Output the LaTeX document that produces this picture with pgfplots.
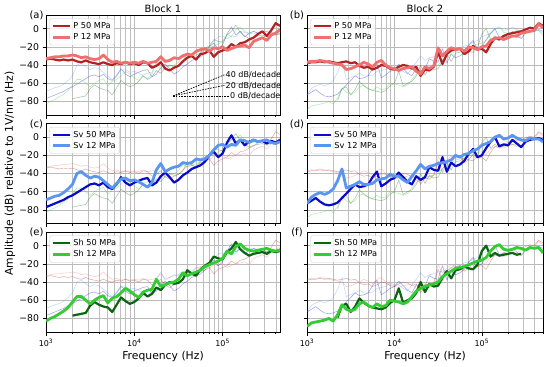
\documentclass[border=0pt]{standalone}
\usepackage{fontspec}
\setmainfont{DejaVu Sans}
\usepackage{pgfplots}
\usepackage{pgfplotstable}
\pgfplotsset{compat=1.18}

\definecolor{pA}{HTML}{B22222}
\definecolor{pB}{HTML}{F07070}
\definecolor{vA}{HTML}{0A0ACD}
\definecolor{vB}{HTML}{5A96F0}
\definecolor{hA}{HTML}{0B6410}
\definecolor{hB}{HTML}{33CC33}

\pgfplotstableread{
f P50 P12 Sv50 Sv12 Sh50 Sh12
1000 -34 -33 -77 -69 nan -83
1122 -33 -32 -75 -67 nan -80
1259 -34 -31 -73 -65 nan -78
1413 -35 -31 -71 -64 nan -75
1585 -34 -30 -69 -61 nan -72
1778 -35 -30 -66 -57 nan -68
1995 -34 -29 -64 -52 -77 -62
2239 -36 -30 -61 -40 -76 -56
2512 -37 -32 -58 -38 -75 -56
2818 -35 -31 -55 -42 -74 -60
3162 -37 -33 -52 -45 -66 -64
3548 -38 -34 -51 -43 -62 -60
3981 -39 -33 -53 -44 -65 -57
4467 -37 -29 -50 -48 -67 -55
5012 -39 -34 -55 -52 -68 -63
5623 -40 -37 -57 -56 -73 -58
6310 -38 -36 -52 -51 -65 -56
7079 -39 -38 -44 -46 -57 -52
7943 -37 -37 -50 -45 -61 -47
8913 -39 -38 -53 -48 -64 -50
10000 -38 -37 -50 -47 -62 -54
11220 -40 -38 -48 -49 -58 -57
12589 -37 -36 -46 -52 -52 -51
14125 -38 -38 -45 -55 -56 -49
15849 -43 -37 -53 -50 -53 -48
17783 -41 -36 -50 -36 -46 -37
19953 -37 -31 -43 -29 -49 -45
22387 -44 -36 -39 -38 -43 -43
25119 -46 -35 -44 -35 -40 -41
28184 -43 -32 -50 -33 -42 -40
31623 -41 -33 -47 -32 -41 -37
35481 -36 -30 -42 -28 -37 -30
39811 -32 -28 -39 -29 -27 -33
44668 -30 -29 -35 -28 -31 -31
50119 -34 -25 -33 -24 -33 -29
56234 -28 -23 -31 -25 -26 -27
63096 -27 -22 -27 -24 -22 -23
70795 -24 -25 -20 -20 -19 -21
79433 -31 -21 -16 -14 -12 -19
89125 -26 -22 -22 -9 -14 -17
100000 -24 -20 -18 -8 -15 -14
112202 -22 -24 -6 -11 -7 -6
125893 -17 -22 2 -8 -3 -9
141254 -20 -20 -7 -9 4 -1
158489 -16 -19 -3 -3 -4 2
177828 -15 -18 -9 -4 -8 -3
199526 -12 -21 -5 -6 -11 -5
223872 -10 -14 -3 -3 -9 -6
251189 -6 -12 -5 -5 -8 -5
281838 -3 -10 -4 -4 -7 -4
316228 -8 -13 -7 -3 -9 -3
354813 -2 -7 -4 -6 -6 -5
398107 6 -5 -6 -7 -7 -6
446684 3 -1 -3 -5 -6 -5
}\blockone

\pgfplotstableread{
f P50 P12 Sv50 Sv12 Sh50 Sh12
1000 -38 -37 -73 -73 nan -89
1122 -37 -36 -70 -66 nan -85
1259 -37 -36 -67 -63 nan -84
1413 -36 -35 -71 -61 nan -83
1585 -37 -36 -74 -63 nan -82
1778 -36 -37 -75 -61 nan -80
1995 -37 -38 -74 -57 nan -83
2239 -38 -39 -72 -48 -79 -76
2512 -37 -40 -67 -35 -66 -65
2818 -36 -45 -62 -56 -64 -70
3162 -38 -44 -57 -54 -73 -72
3548 -37 -42 -52 -52 -67 -70
3981 -41 -40 -55 -49 -58 -64
4467 -43 -37 -54 -52 -63 -62
5012 -42 -39 -52 -52 -66 -66
5623 -45 -42 -44 -51 -68 -68
6310 -43 -37 -38 -47 -69 -64
7079 -40 -35 -54 -46 -70 -67
7943 -41 -40 -51 -45 -68 -66
8913 -44 -43 -47 -41 -63 -60
10000 -45 -44 -45 -43 -60 -61
11220 -42 -46 -39 -43 -47 -62
12589 -40 -44 -44 -47 -63 -64
14125 -41 -43 -49 -50 -60 -62
15849 -44 -42 -52 -43 -58 -56
17783 -42 -47 -43 -37 -52 -50
19953 -52 -50 -47 -30 -40 -47
22387 -45 -42 -44 -35 -51 -45
25119 -46 -44 -33 -32 -42 -43
28184 -42 -41 -36 -31 -45 -42
31623 -26 -21 -37 -29 -44 -40
35481 -39 -30 -22 -28 -35 -34
39811 -28 -25 -38 -27 -28 -31
44668 -24 -21 -28 -25 -36 -28
50119 -23 -23 -32 -20 -27 -25
56234 -22 -22 -30 -22 -26 -24
63096 -28 -25 -26 -19 -23 -23
70795 -25 -20 -18 -18 -25 -21
79433 -19 -21 -13 -15 -26 -19
89125 -23 -23 -22 -13 -21 -17
100000 -22 -20 -20 -9 -6 -16
112202 -26 -19 -12 -7 0 -13
125893 -17 -13 -5 -5 -12 -6
141254 -10 -11 0 0 -8 -1
158489 -12 -10 -10 2 -11 1
177828 -8 -12 -8 -2 -10 -4
199526 -6 -10 -9 -1 -9 -5
223872 -5 -8 -3 2 -8 -4
251189 -4 -8 -7 -1 -10 -2
281838 -3 -5 -11 -3 -9 -3
316228 -1 -4 -5 -4 nan -5
354813 1 -3 -3 -1 nan -2
398107 0 -2 -2 -2 nan -3
446684 6 5 -1 -2 nan -2
501187 3 1 -3 -5 nan -8
}\blocktwo

\pgfplotsset{
  myPanel/.style={
    scale only axis, height=100pt,
    xmin=1000,
    ymin=-95, ymax=15,
    xtick={1000,10000,100000},
    ytick={-80,-60,-40,-20,0},
    xticklabels={}, yticklabels={},
    xmajorgrids=true, xminorgrids=true, ymajorgrids=true,
    major grid style={black!27, line width=0.5pt},
    minor grid style={black!25, line width=0.5pt},
    tick align=outside, tick pos=left,
    major tick length=3.5pt, minor tick length=2pt,
    every tick/.style={black, line width=0.6pt},
    axis line style={line width=0.8pt},
    yticklabel style={font=\fontsize{9.3}{10}\selectfont},
    xticklabel style={font=\fontsize{8}{10}\selectfont},
    legend style={at={(0.015,0.965)}, anchor=north west, draw=black!20,
      fill=white, fill opacity=0.8, draw opacity=1, text opacity=1,
      rounded corners=2pt, font=\fontsize{8.2}{10}\selectfont,
      inner sep=1.8pt, row sep=-0.5pt},
    legend cell align=left,
    anchor=north west,
  },
  myLeft/.style={myPanel, width=234pt, xmax=446684,
    minor xtick={2000,3000,4000,5000,6000,7000,8000,9000,20000,30000,40000,50000,60000,70000,80000,90000,200000,300000,400000},
    yticklabels={−80,−60,−40,−20,0}},
  myRight/.style={myPanel, width=236pt, xmax=501187,
    minor xtick={2000,3000,4000,5000,6000,7000,8000,9000,20000,30000,40000,50000,60000,70000,80000,90000,200000,300000,400000,500000}},
  myBottom/.style={xticklabels={10\textsuperscript{3},10\textsuperscript{4},10\textsuperscript{5}}},
  faint/.style={line width=0.6pt, draw opacity=0.35, forget plot, mark=none, line join=round},
  boldA/.style={line width=2.2pt, mark=none, line join=round},
  boldB/.style={line width=2.8pt, mark=none, line join=round},
}

\begin{document}
\begin{tikzpicture}
\path[use as bounding box] (0pt,0pt) rectangle (550pt,-367pt);

% (a)
\begin{axis}[xmode=log, myLeft, at={(46pt,-15pt)}]
\addplot[faint, vA] table[x=f,y=Sv50]{\blockone};
\addplot[faint, vB] table[x=f,y=Sv12]{\blockone};
\addplot[faint, hA] table[x=f,y=Sh50]{\blockone};
\addplot[faint, hB] table[x=f,y=Sh12]{\blockone};
\addplot[boldA, pA] table[x=f,y=P50]{\blockone};
\addlegendentry{P 50 MPa}
\addplot[boldB, pB] table[x=f,y=P12]{\blockone};
\addlegendentry{P 12 MPa}
\draw[black, line width=0.7pt, dash pattern=on 1.6pt off 1.1pt] (axis cs:27542,-74) -- (axis cs:104713,-50.8) node[right, inner sep=1pt, font=\fontsize{8}{9}\selectfont] {40 dB/decade};
\draw[black, line width=0.7pt, dash pattern=on 1.6pt off 1.1pt] (axis cs:27542,-74) -- (axis cs:104713,-62.4) node[right, inner sep=1pt, font=\fontsize{8}{9}\selectfont] {20 dB/decade};
\draw[black, line width=0.7pt, dash pattern=on 1.6pt off 1.1pt] (axis cs:27542,-74) -- (axis cs:117490,-74) node[right, inner sep=1pt, font=\fontsize{8}{9}\selectfont] {0 dB/decade};
\end{axis}

% (b)
\begin{axis}[xmode=log, myRight, at={(307pt,-15pt)}]
\addplot[faint, vA] table[x=f,y=Sv50]{\blocktwo};
\addplot[faint, vB] table[x=f,y=Sv12]{\blocktwo};
\addplot[faint, hA] table[x=f,y=Sh50]{\blocktwo};
\addplot[faint, hB] table[x=f,y=Sh12]{\blocktwo};
\addplot[boldA, pA] table[x=f,y=P50]{\blocktwo};
\addlegendentry{P 50 MPa}
\addplot[boldB, pB] table[x=f,y=P12]{\blocktwo};
\addlegendentry{P 12 MPa}
\end{axis}

% (c)
\begin{axis}[xmode=log, myLeft, at={(46pt,-123.5pt)}]
\addplot[faint, pA] table[x=f,y=P50]{\blockone};
\addplot[faint, pB] table[x=f,y=P12]{\blockone};
\addplot[faint, hA] table[x=f,y=Sh50]{\blockone};
\addplot[faint, hB] table[x=f,y=Sh12]{\blockone};
\addplot[boldA, vA] table[x=f,y=Sv50]{\blockone};
\addlegendentry{Sv 50 MPa}
\addplot[boldB, vB] table[x=f,y=Sv12]{\blockone};
\addlegendentry{Sv 12 MPa}
\end{axis}

% (d)
\begin{axis}[xmode=log, myRight, at={(307pt,-123.5pt)}]
\addplot[faint, pA] table[x=f,y=P50]{\blocktwo};
\addplot[faint, pB] table[x=f,y=P12]{\blocktwo};
\addplot[faint, hA] table[x=f,y=Sh50]{\blocktwo};
\addplot[faint, hB] table[x=f,y=Sh12]{\blocktwo};
\addplot[boldA, vA] table[x=f,y=Sv50]{\blocktwo};
\addlegendentry{Sv 50 MPa}
\addplot[boldB, vB] table[x=f,y=Sv12]{\blocktwo};
\addlegendentry{Sv 12 MPa}
\end{axis}

% (e)
\begin{axis}[xmode=log, myLeft, myBottom, at={(46pt,-232pt)}]
\addplot[faint, pA] table[x=f,y=P50]{\blockone};
\addplot[faint, pB] table[x=f,y=P12]{\blockone};
\addplot[faint, vA] table[x=f,y=Sv50]{\blockone};
\addplot[faint, vB] table[x=f,y=Sv12]{\blockone};
\addplot[boldA, hA] table[x=f,y=Sh50]{\blockone};
\addlegendentry{Sh 50 MPa}
\addplot[boldB, hB] table[x=f,y=Sh12]{\blockone};
\addlegendentry{Sh 12 MPa}
\end{axis}

% (f)
\begin{axis}[xmode=log, myRight, myBottom, at={(307pt,-232pt)}]
\addplot[faint, pA] table[x=f,y=P50]{\blocktwo};
\addplot[faint, pB] table[x=f,y=P12]{\blocktwo};
\addplot[faint, vA] table[x=f,y=Sv50]{\blocktwo};
\addplot[faint, vB] table[x=f,y=Sv12]{\blocktwo};
\addplot[boldA, hA] table[x=f,y=Sh50]{\blocktwo};
\addlegendentry{Sh 50 MPa}
\addplot[boldB, hB] table[x=f,y=Sh12]{\blocktwo};
\addlegendentry{Sh 12 MPa}
\end{axis}

% titles and labels
\node[font=\fontsize{10}{12}\selectfont] at (163pt,-9pt) {Block 1};
\node[font=\fontsize{10}{12}\selectfont] at (425pt,-9pt) {Block 2};
\foreach \lab/\x/\y in {a/36.5/15.5, b/297/15.5, c/36.5/124, d/297/124, e/36.5/232.5, f/297/232.5}
  \node[font=\fontsize{10}{12}\selectfont] at (\x pt,-\y pt) {(\lab)};
\node[font=\fontsize{10.8}{12}\selectfont, rotate=90] at (10pt,-173.5pt) {Amplitude (dB) relative to 1V/nm (Hz)};
\node[font=\fontsize{10.8}{12}\selectfont] at (163pt,-357pt) {Frequency (Hz)};
\node[font=\fontsize{10.8}{12}\selectfont] at (425pt,-357pt) {Frequency (Hz)};
\end{tikzpicture}
\end{document}
